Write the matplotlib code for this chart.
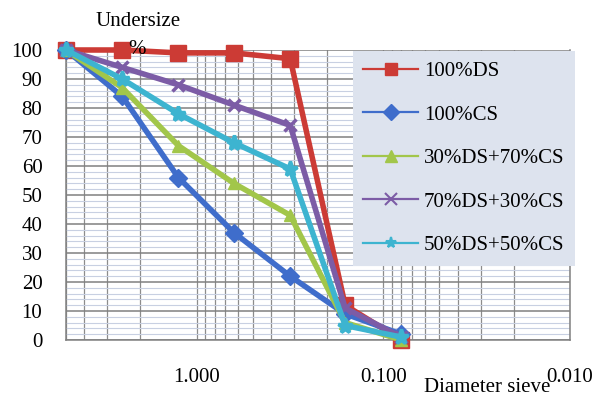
import matplotlib
matplotlib.use("Agg")
import matplotlib.pyplot as plt
from matplotlib.lines import Line2D
from matplotlib.ticker import FixedLocator, LogLocator, NullFormatter, MultipleLocator

# Data
sieve = [5, 2.5, 1.25, 0.63, 0.315, 0.16, 0.08]
series_names = ["100%DS", "100%CS", "30%DS+70%CS", "70%DS+30%CS", "50%DS+50%CS"]
ds100 = [100, 100, 99, 99, 97, 12, 0]
cs100 = [100, 84, 56, 37, 22, 9, 2]
ds30_cs70 = [100, 87, 67, 54, 43, 6, 0]
ds70_cs30 = [100, 94, 88, 81, 74, 11, 1]
ds50_cs50 = [100, 90, 78, 68, 59, 5, 1]
x_ticks = [1.0, 0.1, 0.01]
x_tick_labels = ["1.000", "0.100", "0.010"]
y_ticks = list(range(0, 101, 10))

values = [ds100, cs100, ds30_cs70, ds70_cs30, ds50_cs50]
colors = ["#CC3B35", "#3F6DCB", "#A2C64A", "#7C5CA6", "#3DB4D0"]
markers = ["s", "D", "^", "x", "*"]
msizes = [11, 9, 9, 9, 11]

plt.rcParams['font.family'] = ['Liberation Serif', 'DejaVu Serif']

fig = plt.figure(figsize=(5.95, 3.98), dpi=100)
ax = fig.add_axes([66/595, 1-340/398, (570-66)/595, (340-50)/398])

ax.set_xscale('log')
ax.set_xlim(5, 0.01)
ax.set_ylim(0, 100)

# gridlines
ax.yaxis.set_major_locator(FixedLocator(y_ticks))
ax.yaxis.set_minor_locator(MultipleLocator(2))
ax.xaxis.set_major_locator(FixedLocator(x_ticks))
ax.xaxis.set_minor_locator(LogLocator(base=10, subs=range(2, 10)))
ax.xaxis.set_minor_formatter(NullFormatter())
ax.set_xticklabels(x_tick_labels)
ax.grid(which='major', axis='y', color='#808080', lw=1.1)
ax.grid(which='minor', axis='y', color='#c8d0e2', lw=0.8)
ax.grid(which='both', axis='x', color='#8c8c8c', lw=0.9)
ax.set_axisbelow(True)

ax.tick_params(axis='both', which='both', length=0, labelsize=15)
ax.tick_params(axis='y', pad=17)
ax.tick_params(axis='x', pad=20)

for s in ['top']:
    ax.spines[s].set_visible(False)
for s in ['left', 'bottom', 'right']:
    ax.spines[s].set_color('#808080')
    ax.spines[s].set_linewidth(1.1)

for vals, c, m, ms in zip(values, colors, markers, msizes):
    ax.plot(sieve, vals, color=c, lw=4, marker=m, markersize=ms,
            markeredgewidth=2.5 if m in ('x', '*') else 1, markeredgecolor=c,
            clip_on=False, zorder=3)

handles = [Line2D([], [], color=c, lw=1.6, marker=m, markersize=8,
                  markeredgecolor=c, markeredgewidth=1.5 if m in ('x', '*') else 1)
           for c, m in zip(colors, markers)]
leg = fig.legend(handles, series_names, loc='upper left',
                 bbox_to_anchor=(353/595, 1-51/398), bbox_transform=fig.transFigure,
                 fontsize=15, frameon=True, fancybox=False, borderaxespad=0,
                 handlelength=2.6, handletextpad=0.3, labelspacing=1.15,
                 borderpad=0.5)
leg.get_frame().set_facecolor('#dde3ee')
leg.get_frame().set_edgecolor('none')
leg.get_frame().set_alpha(1)

fig.text(138/595, 1-22/398, "Undersize", ha='center', va='center', fontsize=15)
fig.text(137/595, 1-49/398, "%", ha='center', va='center', fontsize=15)
fig.text(487/595, 1-387/398, "Diameter sieve", ha='center', va='center', fontsize=15)

fig.savefig("out.png", dpi=100)
